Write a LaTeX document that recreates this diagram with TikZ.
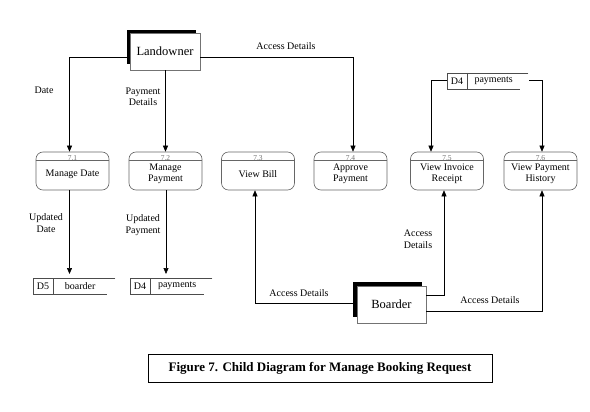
\documentclass[tikz,border=0pt]{standalone}
\usepackage{fontspec}
\setmainfont{Liberation Serif}
\usetikzlibrary{arrows.meta,calc}
\begin{document}
\begin{tikzpicture}[x=1pt,y=-1pt,
  proc/.style={draw=black!60, rounded corners=7pt, minimum width=73pt, minimum height=38pt, inner sep=0pt, line width=0.6pt},
  ptxt/.style={font=\fontsize{10}{11.5}\selectfont, align=center, inner sep=0pt},
  numtxt/.style={font=\fontsize{7.5}{8}\selectfont, text=black!55, inner sep=0pt, anchor=base},
  ent/.style={draw=black!55, fill=white, minimum width=70pt, minimum height=37pt, inner sep=0pt, font=\fontsize{12.5}{14}\selectfont},
  entshadow/.style={fill=black, inner sep=0pt},
  flow/.style={-{Triangle[length=6pt,width=5pt]}, line width=0.6pt},
  lbl/.style={font=\fontsize{10}{11.5}\selectfont, align=center, inner sep=1pt},
  storeline/.style={draw=black!70, line width=0.6pt},
  storebox/.style={minimum width=#1, minimum height=16pt, inner sep=0pt, anchor=north west},
  stxt/.style={font=\fontsize{10}{11}\selectfont, inner sep=0pt},
  caption/.style={draw=black, line width=0.8pt, minimum width=344pt, minimum height=28pt, font=\bfseries\fontsize{13}{15}\selectfont}
]
\useasboundingbox[fill=white] (0,0) rectangle (590,412);

\newcommand\procbox[5]{%
  \node[proc] (#1) at (#2,#3) {};
  \draw[draw=black!60, line width=0.6pt] ($(#1.north west)+(0,9)$) -- ($(#1.north east)+(0,9)$);
  \node[numtxt] (#1n) at ($(#1.north)+(0,8.7)$) {#4};
  \node[ptxt] (#1t) at ($(#1.center)+(0,3)$) {#5};
}
\newcommand\dstore[6]{%
  \node[storebox=#4pt] (#1) at (#2,#3) {};
  \draw[storeline] (#1.north east) -- (#1.north west) -- (#1.south west) -- ($(#1.south east)+(-8,0)$);
  \draw[storeline] ($(#1.north west)+(20,0)$) -- ($(#1.south west)+(20,0)$);
  \node[stxt] (#1i) at ($(#1.west)+(10,0)$) {#5};
  \node[stxt] (#1l) at ($(#1.center)+(6,0)$) {#6};
}

% external entities
\node[entshadow, minimum width=69pt, minimum height=34pt] (landS) at (161.5,47) {};
\node[ent] (land) at (165,51.5) {Landowner};
\node[entshadow, minimum width=69pt, minimum height=35pt] (bS) at (387.5,299.5) {};
\node[ent, minimum width=69pt] (board) at (391.5,304.5) {Boarder};

% processes
\procbox{p1}{72.5}{171}{7.1}{Manage Date}
\procbox{p2}{165.5}{171}{7.2}{Manage\\Payment}
\procbox{p3}{258}{171}{7.3}{View Bill}
\procbox{p4}{350.5}{171}{7.4}{Approve\\Payment}
\procbox{p5}{447}{171}{7.5}{View Invoice\\Receipt}
\procbox{p6}{540.5}{171}{7.6}{View Payment\\History}

% data stores
\dstore{ds1}{33}{278}{82}{D5}{boarder}
\dstore{ds2}{130}{278}{82}{D4}{payments}
\dstore{ds3}{447}{73}{81}{D4}{payments}

% flows
\coordinate (a1) at ($(p1.north)+(-3,0)$);
\draw[flow] ($(landS.west)+(0,10)$) -| (a1);
\draw[flow] (land.south -| p2.north) -- (p2.north);
\draw[flow] ($(land.east)+(0,5.5)$) -| ($(p4.north)+(2.5,0)$);

\coordinate (a2) at ($(p1.south)+(-3,0)$);
\draw[flow, shorten >=4pt] (a2) -- (a2 |- ds1.north);
\coordinate (a3) at ($(p2.south)+(0.5,0)$);
\draw[flow, shorten >=4pt] (a3) -- (a3 |- ds2.north);

\draw[flow] ($(ds3.west)+(0,-1)$) -| ($(p5.north)+(-16,0)$);
\draw[flow] ($(ds3.east)+(1,-1)$) -| ($(p6.north)+(1.5,0)$);

\draw[flow] ($(bS.west)+(0,3.5)$) -| ($(p3.south)+(-3,0)$);
\draw[flow] ($(board.east)+(0,-9.5)$) -| ($(p5.south)+(-3,0)$);
\draw[flow] ($(board.east)+(0,6.5)$) -| ($(p6.south)+(1.5,0)$);

% labels
\node[lbl] (l1) at (44,90) {Date};
\node[lbl] (l2) at (143,97) {Payment\\Details};
\node[lbl] (l3) at (286,46) {Access Details};
\node[lbl] (l4) at (46,223) {Updated\\Date};
\node[lbl] (l5) at (143,225) {Updated\\Payment};
\node[lbl] (l6) at (299,293) {Access Details};
\node[lbl] (l7) at (418,239) {Access\\Details};
\node[lbl] (l8) at (490,300) {Access Details};

% caption
\node[caption] (cap) at (320,368) {Figure 7. Child Diagram for Manage Booking Request};
\end{tikzpicture}
\end{document}
